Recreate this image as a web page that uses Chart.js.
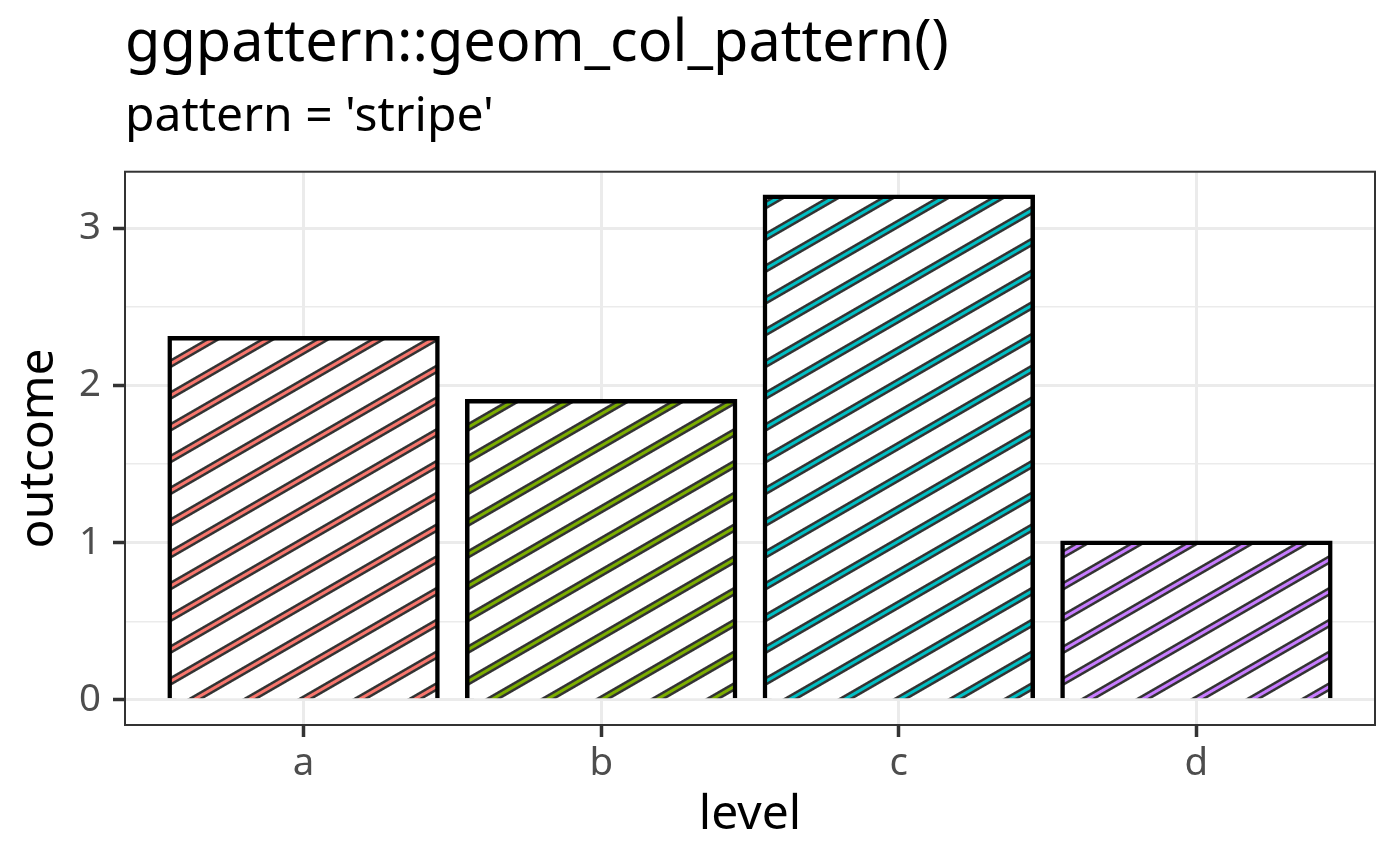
<!DOCTYPE html>
<html>
<head>
<meta charset="utf-8">
<script src="https://cdn.jsdelivr.net/npm/chart.js@4.4.1/dist/chart.umd.min.js"></script>
<style>
  html, body { margin: 0; padding: 0; background: #fff; }
</style>
</head>
<body>
<canvas id="cnv" width="1400" height="866"></canvas>
<script>
// ---- data ----
const levels   = ['a', 'b', 'c', 'd'];
const outcome  = [2.3, 1.9, 3.2, 1.0];
const stripeColours = ['#F8766D', '#7CAE00', '#00BFC4', '#C77CFF'];
const yMajor   = [0, 1, 2, 3];
const yMinor   = [0.5, 1.5, 2.5];

// ---- stripe pattern (30 deg, like ggpattern 'stripe') ----
const SPACING = 27.5;   // perpendicular distance between stripes
const makeStripe = (ctx, colour, left, base) => {
  const t = document.createElement('canvas');
  t.width = 4; t.height = SPACING * 2;
  const g = t.getContext('2d');
  const mid = t.height / 2;
  g.fillStyle = '#fff';    g.fillRect(0, 0, t.width, t.height);
  g.fillStyle = '#333333'; g.fillRect(0, mid - 8, t.width, 16);
  g.fillStyle = colour;    g.fillRect(0, mid - 3, t.width, 6);
  const p = ctx.createPattern(t, 'repeat');
  p.setTransform(new DOMMatrix()
    .translate(left, base).rotate(-30)
    .translate(0, -15.6 - SPACING / 2).scale(0.5));
  return p;
};

const stripeFill = (c) => {
  const i = c.dataIndex;
  const xs = c.chart.scales.x, ys = c.chart.scales.y;
  if (i === undefined || !xs || !ys) return '#fff';
  const left = xs.getPixelForValue(i + 1 - 0.45);
  const base = ys.getPixelForValue(0);
  return makeStripe(c.chart.ctx, stripeColours[i], left, base);
};

// ---- panel border on top ----
const panelBorder = {
  id: 'panelBorder',
  afterDatasetsDraw(chart) {
    const {ctx, chartArea: a} = chart;
    ctx.save();
    ctx.strokeStyle = '#333333';
    ctx.lineWidth = 2;
    ctx.strokeRect(a.left, a.top, a.right - a.left, a.bottom - a.top);
    ctx.restore();
  }
};

const isMajor = v => yMajor.includes(v);
const FONT = '"Noto Sans", "Open Sans", sans-serif';

new Chart('cnv', {
  type: 'bar',
  data: {
    datasets: [{
      data: outcome.map((v, i) => ({x: i + 1, y: v})),
      backgroundColor: stripeFill,
      borderColor: '#000',
      borderWidth: 4.5,
      inflateAmount: 2.25,
      barPercentage: 0.9,
      categoryPercentage: 1
    }]
  },
  options: {
    responsive: false,
    animation: false,
    devicePixelRatio: 1,
    layout: { padding: { left: 0, right: 25, top: 0, bottom: 0 } },
    plugins: {
      legend: { display: false },
      tooltip: { enabled: false },
      title: {
        display: true, text: 'ggpattern::geom_col_pattern()',
        align: 'start', fullSize: false, color: '#000',
        font: { family: FONT, size: 57.6, weight: 'normal' },
        padding: { top: 10, bottom: 9 }
      },
      subtitle: {
        display: true, text: "pattern = 'stripe'",
        align: 'start', fullSize: false, color: '#000',
        font: { family: FONT, size: 48, weight: 'normal' },
        padding: { top: 0, bottom: 26 }
      }
    },
    scales: {
      x: {
        type: 'linear', min: 0.4, max: 4.6, offset: false,
        afterBuildTicks: s => { s.ticks = levels.map((l, i) => ({value: i + 1})); },
        afterFit: s => { s.height = 141; },
        ticks: {
          callback: v => levels[v - 1],
          color: '#4D4D4D', padding: 4,
          font: { family: FONT, size: 38.4 }
        },
        grid: { offset: false, color: '#EBEBEB', lineWidth: 3, tickColor: '#333333', tickLength: 12, tickWidth: 3.5 },
        border: { display: false },
        title: {
          display: true, text: 'level', color: '#000',
          font: { family: FONT, size: 48 },
          padding: { top: 0, bottom: 22 }
        }
      },
      y: {
        min: -0.16, max: 3.36,
        afterBuildTicks: s => {
          s.ticks = yMajor.concat(yMinor).sort((a, b) => a - b).map(v => ({value: v}));
        },
        afterFit: s => { s.width = 125; },
        ticks: {
          callback: v => isMajor(v) ? String(v) : '',
          color: '#4D4D4D', padding: 12,
          font: { family: FONT, size: 38.4 }
        },
        grid: {
          color: '#EBEBEB',
          lineWidth: c => isMajor(c.tick.value) ? 3 : 1.5,
          tickColor: c => isMajor(c.tick.value) ? '#333333' : 'rgba(0,0,0,0)',
          tickLength: 12, tickWidth: 3.5
        },
        border: { display: false },
        title: {
          display: true, text: 'outcome', color: '#000',
          font: { family: FONT, size: 48 },
          padding: { top: 11, bottom: 0 }
        }
      }
    }
  },
  plugins: [panelBorder]
});
</script>
</body>
</html>
